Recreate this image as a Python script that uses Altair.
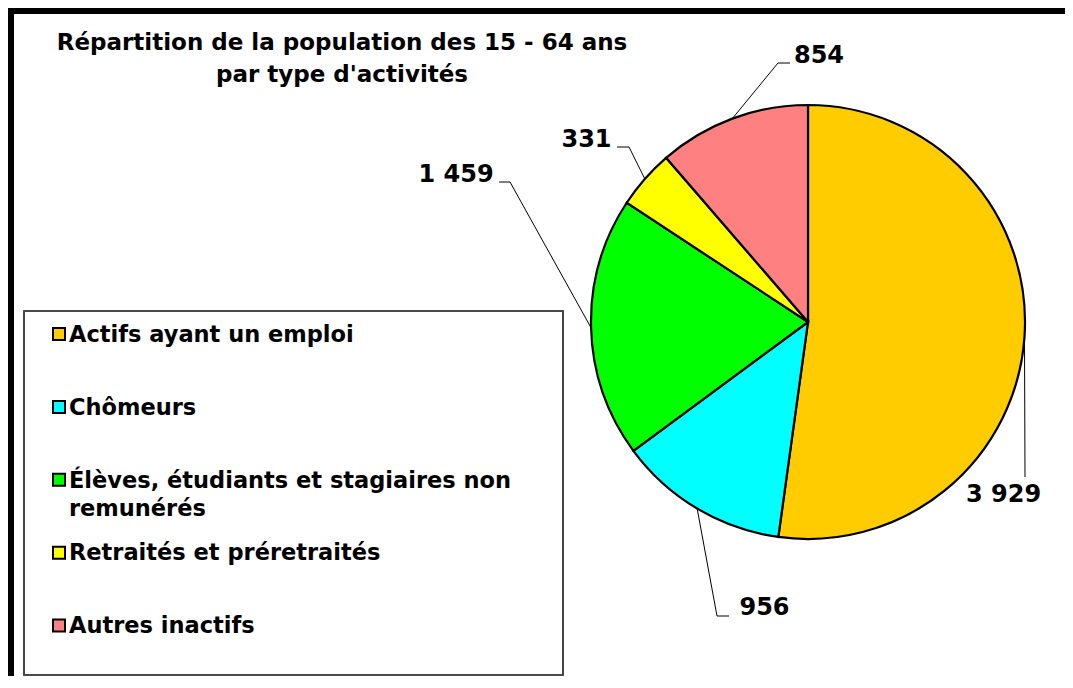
import textwrap
import altair as alt
import pandas as pd

# ---- data ----
categories = [
    "Actifs ayant un emploi",
    "Chômeurs",
    "Élèves, étudiants et stagiaires non remunérés",
    "Retraités et préretraités",
    "Autres inactifs",
]
values = [3929, 956, 1459, 331, 854]
colors = ["#FFCC00", "#00FFFF", "#00FF00", "#FFFF00", "#FF8080"]
title_lines = ["Répartition de la population des 15 - 64 ans", "par type d'activités"]

# ---- layout (chart pixels) ----
W, H = 1057, 668
CX, CY, R = 800, 314, 217
label_x = [1003.5 - 8, 764.5 - 8, 456 - 8, 586.5 - 8, 819 - 8]
label_y = [494, 607, 174, 139, 55]
elbow_x = [1017, 709, 502, 621, 770]
elbow_y = [469, 608, 174, 139, 55]
hook_x = [1017, 721, 491, 609, 782]
LEG_BASE0, LEG_STEP, LEG_SYM_X, LEG_TXT_X = 333.7, 72.9, 51, 61
FONT = "DejaVu Sans"

df = pd.DataFrame({
    "cat": categories,
    "value": values,
    "order": list(range(len(categories))),
    "label": [f"{v:,}".replace(",", " ") for v in values],
    "legtext": ["\n".join(textwrap.wrap(c, 35)) for c in categories],
    "lx": label_x, "ly": label_y,
    "ex": elbow_x, "ey": elbow_y, "hx": hook_x,
})

xs = alt.Scale(domain=[0, W], nice=False, zero=False)
ys = alt.Scale(domain=[0, H], nice=False, zero=False, reverse=True)
color = alt.Color(
    "cat:N",
    scale=alt.Scale(domain=categories, range=colors),
    sort=categories,
    legend=None,
)

base = alt.Chart(df)

pie = base.mark_arc(stroke="black", strokeWidth=2.2, radius=R).encode(
    theta=alt.Theta("value:Q", stack=True),
    order=alt.Order("order:Q"),
    color=color,
    x=alt.value(CX),
    y=alt.value(CY),
)

leader_base = base.transform_joinaggregate(
    total="sum(value)"
).transform_window(
    cum="sum(value)", sort=[alt.SortField("order")], frame=[None, 0]
).transform_calculate(
    mid="(datum.cum - datum.value / 2) / datum.total * 2 * PI",
    x0=f"{CX} + {R} * sin(datum.mid)",
    y0=f"{CY} - {R} * cos(datum.mid)",
)

leader1 = leader_base.mark_rule(color="black", strokeWidth=1).encode(
    x=alt.X("x0:Q", scale=xs, axis=None),
    y=alt.Y("y0:Q", scale=ys, axis=None),
    x2="ex:Q",
    y2="ey:Q",
)
leader2 = base.mark_rule(color="black", strokeWidth=1).encode(
    x=alt.X("ex:Q", scale=xs, axis=None),
    y=alt.Y("ey:Q", scale=ys, axis=None),
    x2="hx:Q",
    y2="ey:Q",
)

labels = base.mark_text(
    font=FONT, fontSize=24, fontWeight="bold", color="black",
    align="center", baseline="alphabetic",
).encode(
    x=alt.X("lx:Q", scale=xs, axis=None),
    y=alt.Y("ly:Q", scale=ys, axis=None),
    text="label:N",
)

# legend (drawn from the same colour scale, one row per category)
leg = base.transform_calculate(
    base_y=f"{LEG_BASE0} + datum.order * {LEG_STEP}",
    sym_y=f"{LEG_BASE0} - 7.7 + datum.order * {LEG_STEP}",
)
leg_sym = leg.mark_square(size=144, stroke="black", strokeWidth=2, opacity=1, filled=True).encode(
    x=alt.value(LEG_SYM_X),
    y=alt.Y("sym_y:Q", scale=ys, axis=None),
    color=color,
)
leg_txt = leg.mark_text(
    font=FONT, fontSize=22.5, fontWeight="bold", color="black",
    align="left", baseline="alphabetic", lineBreak="\n", lineHeight=28.5,
).encode(
    x=alt.value(LEG_TXT_X),
    y=alt.Y("base_y:Q", scale=ys, axis=None),
    text="legtext:N",
)

legend_box = base.mark_rect(fill=None, stroke="#444444", strokeWidth=1.2).encode(
    x=alt.value(16), x2=alt.value(555), y=alt.value(303), y2=alt.value(667)
)
frame_top = base.mark_rule(color="black", strokeWidth=6).encode(
    x=alt.value(0), x2=alt.value(W), y=alt.value(3)
)
frame_left = base.mark_rule(color="black", strokeWidth=6).encode(
    x=alt.value(3), y=alt.value(0), y2=alt.value(H)
)

chart = alt.layer(
    legend_box, pie, leader1, leader2, labels, leg_sym, leg_txt, frame_top, frame_left
).properties(
    width=W,
    height=H,
    autosize=alt.AutoSizeParams(type="none"),
    padding=0,
    title=alt.TitleParams(
        text=title_lines,
        font=FONT,
        fontSize=23,
        fontWeight="bold",
        color="black",
        anchor="middle",
        frame="group",
        offset=0,
        dx=334 - W / 2,
        dy=82,
        baseline="top",
        lineHeight=32,
    ),
).configure_view(stroke=None)

chart.save("out.html", embed_options={"renderer": "svg", "actions": False})
